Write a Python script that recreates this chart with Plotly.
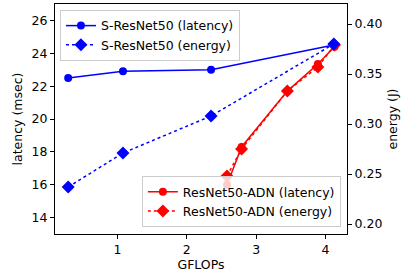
import plotly.graph_objects as go

# S-ResNet50
s_gflops = [0.29, 1.08, 2.35, 4.12]
s_latency = [22.5, 22.9, 23.0, 24.5]
s_energy = [0.237, 0.271, 0.308, 0.380]

# ResNet50-ADN
adn_gflops = [2.58, 2.79, 3.45, 3.89, 4.13]
adn_latency = [16.0, 18.3, 21.7, 23.35, 24.4]
adn_energy = [0.248, 0.275, 0.333, 0.357, 0.379]

x_ticks = [1, 2, 3, 4]
lat_ticks = [14, 16, 18, 20, 22, 24, 26]
en_ticks = [0.20, 0.25, 0.30, 0.35, 0.40]

BLUE = "#0000ff"
RED = "#ff0000"
FONT = "DejaVu Sans"
FS = 12.5

fig = go.Figure()
fig.add_trace(go.Scatter(x=adn_gflops, y=adn_latency, mode="lines+markers",
                         name="ResNet50-ADN (latency)", legend="legend2",
                         line=dict(color=RED, width=1.5),
                         marker=dict(symbol="circle", size=8, color=RED)))
fig.add_trace(go.Scatter(x=s_gflops, y=s_latency, mode="lines+markers",
                         name="S-ResNet50 (latency)", legend="legend",
                         line=dict(color=BLUE, width=1.5),
                         marker=dict(symbol="circle", size=8, color=BLUE)))
fig.add_trace(go.Scatter(x=adn_gflops, y=adn_energy, mode="lines+markers",
                         name="ResNet50-ADN (energy)", legend="legend2", yaxis="y2",
                         line=dict(color=RED, width=1.5, dash="dot"),
                         marker=dict(symbol="diamond", size=10, color=RED)))
fig.add_trace(go.Scatter(x=s_gflops, y=s_energy, mode="lines+markers",
                         name="S-ResNet50 (energy)", legend="legend", yaxis="y2",
                         line=dict(color=BLUE, width=1.5, dash="dot"),
                         marker=dict(symbol="diamond", size=10, color=BLUE)))

axis_common = dict(showgrid=False, zeroline=False, showline=True, linecolor="black",
                   linewidth=1, ticks="outside", ticklen=4, tickcolor="black",
                   automargin=False,
                   tickfont=dict(family=FONT, size=FS, color="black"))

fig.update_layout(
    width=403, height=275,
    margin=dict(l=55, r=56, t=4, b=41),
    paper_bgcolor="white", plot_bgcolor="white",
    font=dict(family=FONT, size=FS, color="black"),
    xaxis=dict(range=[0.1, 4.31], tickvals=x_ticks, mirror=True,
               title=dict(text="GFLOPs", font=dict(family=FONT, size=FS), standoff=2),
               **axis_common),
    yaxis=dict(range=[13.0, 27.0], tickvals=lat_ticks,
               title=dict(text="latency (msec)", font=dict(family=FONT, size=FS), standoff=6),
               **axis_common),
    yaxis2=dict(range=[0.19, 0.42], tickvals=en_ticks, tickformat=".2f",
                overlaying="y", side="right",
                title=dict(text="energy (J)", font=dict(family=FONT, size=FS), standoff=6),
                **axis_common),
    legend=dict(x=0.017, y=0.974, xanchor="left", yanchor="top",
                bgcolor="rgba(255,255,255,0.8)", bordercolor="#cccccc", borderwidth=1,
                font=dict(family=FONT, size=FS), tracegroupgap=0, itemwidth=30),
    legend2=dict(x=0.979, y=0.03, xanchor="right", yanchor="bottom",
                 bgcolor="rgba(255,255,255,0.8)", bordercolor="#cccccc", borderwidth=1,
                 font=dict(family=FONT, size=FS), tracegroupgap=0, itemwidth=30),
    showlegend=True,
)

fig.write_html("out.html", config={"displayModeBar": False},
               post_script="document.body.style.margin='0';")
